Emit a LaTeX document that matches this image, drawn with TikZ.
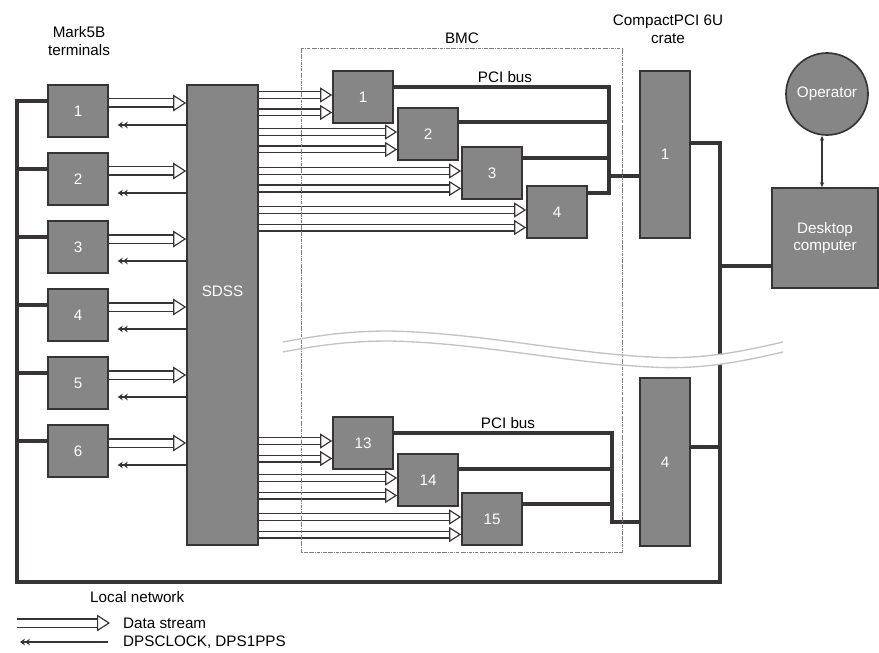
\documentclass[tikz,border=0pt]{standalone}
\usepackage{fontspec}
\setmainfont{Liberation Sans}
\usetikzlibrary{arrows.meta,calc}

\definecolor{boxgray}{RGB}{134,134,134}
\definecolor{edge}{RGB}{56,52,52}
\definecolor{wavegray}{RGB}{195,195,195}

\tikzset{
  txt/.style={font=\fontsize{13}{15}\selectfont, inner sep=0pt, align=center},
  unit/.style={txt, draw=edge, fill=boxgray, line width=0.05cm, text=white},
  term/.style={unit, minimum width=1.8cm, minimum height=1.56cm},
  board/.style={unit, minimum width=1.8cm, minimum height=1.56cm},
  crate/.style={unit, minimum width=1.5cm, minimum height=5.02cm},
  stream/.style={draw=edge, line width=0.035cm, double=white, double distance=0.17cm,
    -{Triangle[length=0.36cm, width=0.45cm, fill=white, line width=0.035cm]}},
  widestream/.style={stream, double distance=0.21cm,
    -{Triangle[length=0.39cm, width=0.5cm, fill=white, line width=0.035cm]}},
  clk/.style={draw=edge, line width=0.04cm,
    {Stealth[length=0.15cm, width=0.2cm]Stealth[length=0.15cm, width=0.2cm]}-},
  bus/.style={draw=edge, line width=0.11cm},
  net/.style={draw=edge, line width=0.11cm},
  link/.style={draw=edge, line width=0.05cm,
    {Stealth[length=0.15cm, width=0.13cm]}-{Stealth[length=0.15cm, width=0.13cm]}}
}

\begin{document}
\begin{tikzpicture}[x=0.03cm, y=-0.03cm]
  \useasboundingbox (0,0) rectangle (879,652);

  % titles
  \node[txt] (ttlterm) at (79,41) {Mark5B\\terminals};
  \node[txt] (ttlbmc) at (462,38) {BMC};
  \node[txt] (ttlcrate) at (668,29) {CompactPCI 6U\\crate};

  % Mark5B terminals
  \node[term] (t1) at (78,111) {1};
  \node[term] (t2) at (78,179) {2};
  \node[term] (t3) at (78,247) {3};
  \node[term] (t4) at (78,315) {4};
  \node[term] (t5) at (78,383) {5};
  \node[term] (t6) at (78,451) {6};

  % SDSS
  \node[unit, minimum width=2.13cm, minimum height=13.8cm] (sdss) at (222.5,315) {};
  \node[txt, text=white] (sdsslbl) at (222.5,291) {SDSS};

  % BMC boards
  \node[board] (b1) at (363,97) {1};
  \node[board] (b2) at (428,134) {2};
  \node[board] (b3) at (492,173) {3};
  \node[board] (b4) at (557,212) {4};
  \node[board] (b13) at (363,443) {13};
  \node[board] (b14) at (428,480) {14};
  \node[board] (b15) at (492,519) {15};

  % crates, computer, operator
  \node[crate] (c1) at (665,154.5) {1};
  \node[crate] (c4) at (665,462) {4};
  \node[unit, minimum width=3.18cm, minimum height=3cm] (desk) at (825,238) {Desktop\\computer};
  \node[unit, circle, minimum size=2.46cm] (op) at (827,94) {Operator};
  \draw[link] (op.south -| 822,0) -- (desk.north -| 822,0);

  % local network
  \coordinate (lanL) at (17,582);
  \coordinate (lanR) at (720,582);
  \path (c1.east) ++(0,-11.5) coordinate (k1);
  \path (t1.west) ++(0,-10) coordinate (n1);
  \draw[net] (n1) -| (lanL) -- (lanR) |- (k1);
  \foreach \i in {2,...,6} {
    \path (t\i.west) ++(0,-10) coordinate (n\i);
    \draw[net] (n\i) -- (n\i -| lanL);
  }
  \path (c4.east) ++(0,-15) coordinate (k4);
  \draw[net] (k4) -- (k4 -| lanR);
  \path (desk.west) ++(0,28) coordinate (dk);
  \draw[net] (dk) -- (dk -| lanR);
  \node[txt, anchor=west] (lan) at (90,597) {Local network};

  % terminals <-> SDSS
  \foreach \i in {1,...,6} {
    \path (t\i.east) ++(0,-8) coordinate (ds\i);
    \draw[widestream] (ds\i) -- (ds\i -| sdss.west);
    \path (t\i.east) ++(9,14) coordinate (ck\i);
    \draw[clk] (ck\i) -- (ck\i -| sdss.west);
  }

  % SDSS -> boards
  \foreach \b in {1,2,3,4,13,14,15}
    \foreach \d in {-2,15.5} {
      \path (b\b.west) ++(0,\d) coordinate (tip);
      \draw[stream] (tip -| sdss.east) -- (tip);
    }

  % PCI bus, upper crate
  \path (b1.east) ++(0,-10) coordinate (p1);
  \path (b2.east) ++(0,-12) coordinate (p2);
  \path (b3.east) ++(0,-15) coordinate (p3);
  \path (b4.east) ++(0,-19) coordinate (p4);
  \coordinate (busU) at (609,0);
  \draw[bus] (p1) -| (p4 -| busU) -- (p4);
  \draw[bus] (p2) -- (p2 -| busU);
  \draw[bus] (p3) -- (p3 -| busU);
  \path (c1.west) ++(0,21.5) coordinate (q1);
  \draw[bus] (q1 -| busU) -- (q1);
  \node[txt] (pci1) at (505,77) {PCI bus};

  % PCI bus, lower crate
  \path (b13.east) ++(0,-10) coordinate (p13);
  \path (b14.east) ++(0,-11) coordinate (p14);
  \path (b15.east) ++(0,-15) coordinate (p15);
  \path (c4.west) ++(0,60) coordinate (q4);
  \coordinate (busL) at (612,0);
  \draw[bus] (p13) -| (q4 -| busL) -- (q4);
  \draw[bus] (p14) -- (p14 -| busL);
  \draw[bus] (p15) -- (p15 -| busL);
  \node[txt] (pci2) at (508,423) {PCI bus};

  % break
  \draw[white, line width=0.27cm] (283,347) .. controls (320,340) and (350,336) .. (390,336)
    .. controls (480,338) and (560,357) .. (650,362) .. controls (700,365) and (740,357) .. (783,347);
  \draw[gray, densely dash dot, line width=0.03cm] (301,49) rectangle (622,552);
  \foreach \s in {0,10}
    \draw[wavegray, line width=0.04cm] (283,342+\s) .. controls (320,335+\s) and (350,331+\s) .. (390,331+\s)
      .. controls (480,333+\s) and (560,352+\s) .. (650,357+\s) .. controls (700,360+\s) and (740,352+\s) .. (783,342+\s);

  % legend
  \node[txt, anchor=west] (lgds) at (123,623) {Data stream};
  \node[txt, anchor=west] (lgck) at (123,642) {DPSCLOCK, DPS1PPS};
  \coordinate (lgdsL) at (17,623);
  \coordinate (lgckL) at (20,642);
  \draw[widestream] (lgdsL) -- (lgds.west -| 110,0);
  \draw[clk] (lgckL) -- (lgck.west -| 108,0);
\end{tikzpicture}
\end{document}
